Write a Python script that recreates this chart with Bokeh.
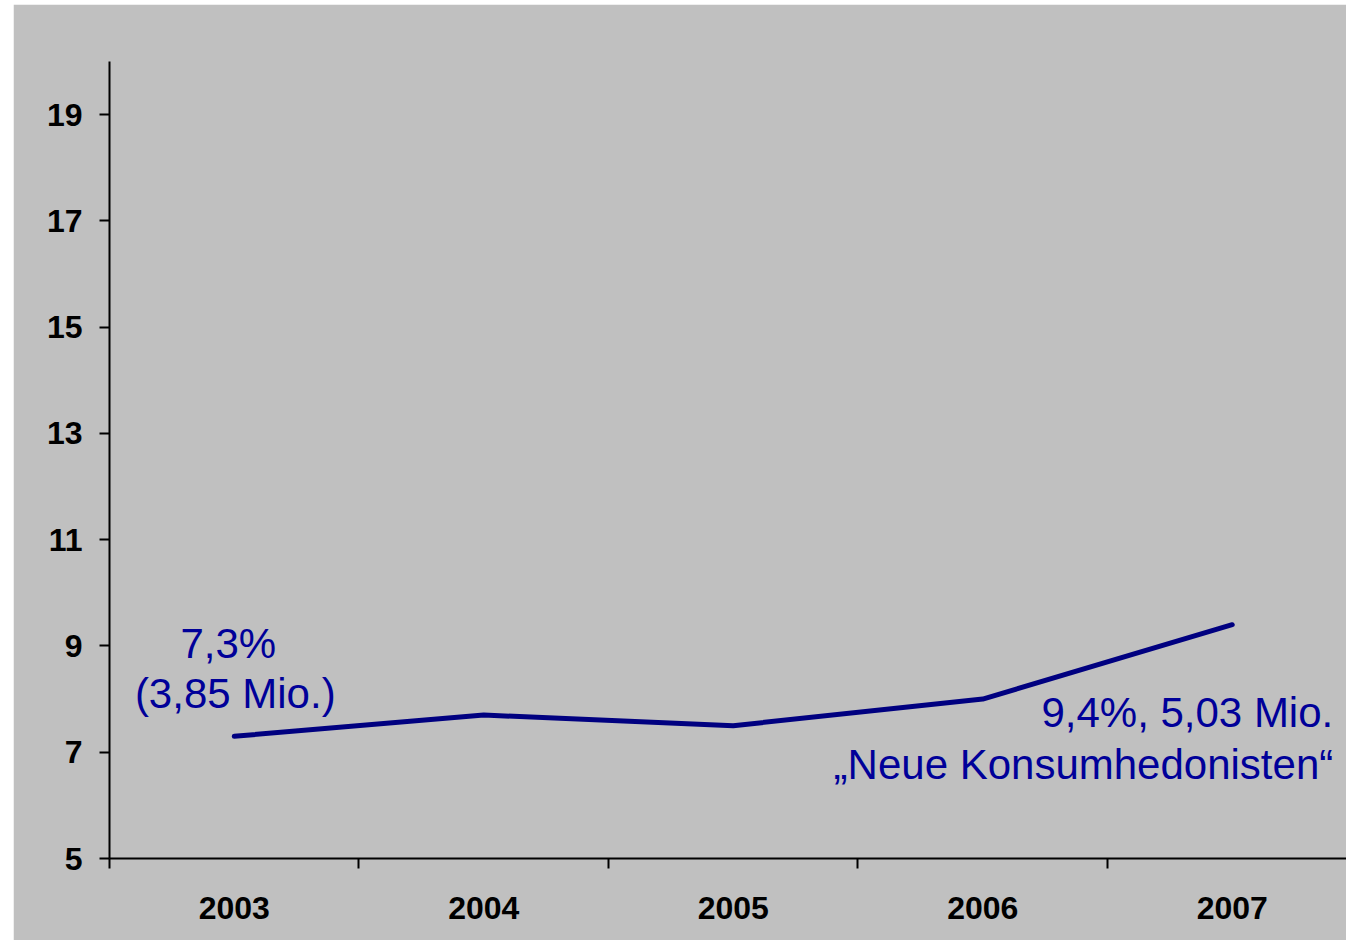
from bokeh.plotting import figure
from bokeh.models import FixedTicker, Range1d, Spacer
from bokeh.layouts import row, column
from bokeh.core.properties import value
from bokeh.embed import file_html
from bokeh.resources import INLINE

years = ["2003", "2004", "2005", "2006", "2007"]
shares = [7.3, 7.7, 7.5, 8.0, 9.4]
y_ticks = [5, 7, 9, 11, 13, 15, 17, 19]
label_start = ["7,3%", "(3,85 Mio.)"]
label_end = ["9,4%, 5,03 Mio.", "\u201eNeue Konsumhedonisten\u201c"]

xs = [i + 0.5 for i in range(len(years))]
boundaries = list(range(len(years)))

GRAY = "#C0C0C0"
LINE = "#000080"
TXT = "#000099"
FONT = "Liberation Sans"

p = figure(width=1333, height=936, output_backend="svg", toolbar_location=None,
           x_range=Range1d(0, 4.958), y_range=Range1d(5, 20),
           min_border_left=96, min_border_right=0, min_border_top=57, min_border_bottom=82)
p.background_fill_color = GRAY
p.border_fill_color = GRAY
p.outline_line_color = GRAY
p.outline_line_width = 2
p.grid.visible = False

p.line(xs, shares, line_color=LINE, line_width=5, line_cap="round", line_join="round")

# annotations anchored to first and last points
p.text(x=[xs[0]], y=[shares[0]], text=[label_start[0]], text_align="center",
       text_baseline="alphabetic", x_offset=-6, y_offset=-93,
       text_font=value(FONT), text_font_size="42px", text_color=TXT)
p.text(x=[xs[0]], y=[shares[0]], text=[label_start[1]], text_align="center",
       text_baseline="alphabetic", x_offset=1, y_offset=-43,
       text_font=value(FONT), text_font_size="42px", text_color=TXT)
p.text(x=[xs[-1]], y=[shares[-1]], text=[label_end[0]], text_align="right",
       text_baseline="alphabetic", x_offset=101, y_offset=88,
       text_font=value(FONT), text_font_size="42px", text_color=TXT)
p.text(x=[xs[-1]], y=[shares[-1]], text=[label_end[1]], text_align="right",
       text_baseline="alphabetic", x_offset=101, y_offset=140,
       text_font=value(FONT), text_font_size="42px", text_color=TXT)

xa = p.xaxis[0]
xa.ticker = FixedTicker(ticks=xs, minor_ticks=boundaries)
xa.major_label_overrides = {x: y for x, y in zip(xs, years)}
xa.major_tick_line_color = None
xa.major_tick_out = 10
xa.major_tick_in = 0
xa.minor_tick_out = 10
xa.minor_tick_in = 0
xa.minor_tick_line_width = 2
xa.minor_tick_line_color = "black"
xa.major_label_standoff = 28

ya = p.yaxis[0]
ya.ticker = FixedTicker(ticks=y_ticks, minor_ticks=[])
ya.major_tick_out = 10
ya.major_tick_in = 0
ya.major_tick_line_width = 2
ya.major_label_standoff = 17

for ax in (xa, ya):
    ax.axis_line_width = 2
    ax.axis_line_color = "black"
    ax.major_label_text_font = FONT
    ax.major_label_text_font_style = "bold"
    ax.major_label_text_font_size = "32px"
    ax.major_label_text_color = "black"

layout = row(Spacer(width=13), column(Spacer(height=4), p))
open("out.html", "w").write(file_html(layout, INLINE))
